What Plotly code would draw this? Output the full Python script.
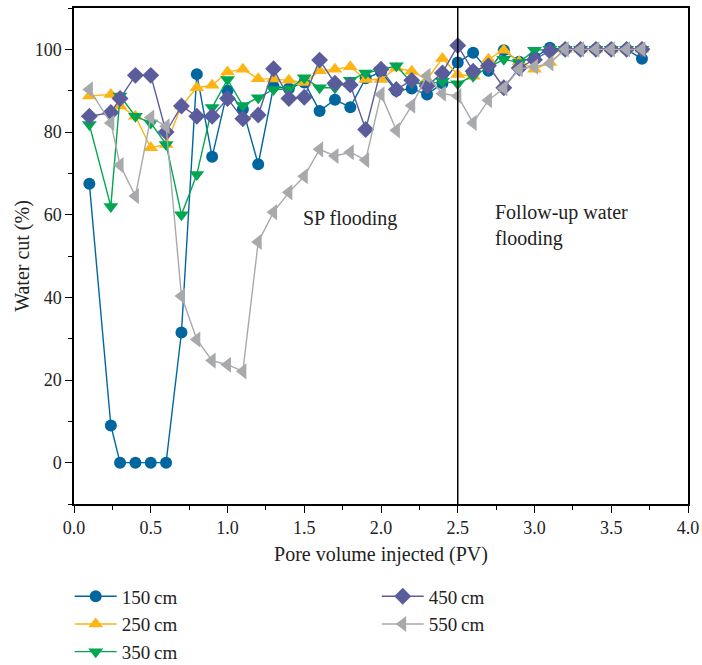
import plotly.graph_objects as go

pv = [0.1, 0.24, 0.3, 0.4, 0.5, 0.6, 0.7, 0.8, 0.9, 1.0, 1.1, 1.2, 1.3, 1.4, 1.5,
      1.6, 1.7, 1.8, 1.9, 2.0, 2.1, 2.2, 2.3, 2.4, 2.5, 2.6, 2.7, 2.8, 2.9, 3.0,
      3.1, 3.2, 3.3, 3.4, 3.5, 3.6, 3.7]

wc_150 = [67.5, 9, 0, 0, 0, 0, 31.5, 94, 74, 90, 85.5, 72.2, 91, 90.5, 92,
          85.1, 87.8, 86, 93, 94.5, 90, 90.5, 89.1, 91.8, 96.8, 99.2, 94.8, 99.8, 97, 98,
          100.4, 100, 100, 100, 100, 100, 97.7]
wc_250 = [88.7, 89.1, 86.3, 83.8, 76.2, 77, 86.3, 90.7, 91.3, 94.5, 95.2, 92.9, 92.8, 92.5, 92,
          94.8, 95.2, 95.8, 92.7, 92.7, 95.5, 94.7, 92.7, 97.8, 93.9, 93.5, 97.6, 99.8, 97, 95.2,
          96.8, 100, 100, 100, 100, 100, 100]
wc_350 = [81.8, 62, 88.7, 83.8, 82.2, 77, 60, 69.7, 85.9, 92.7, 86.4, 88.3, 90.3, 90.4, 93.1,
          90.7, 90.7, 92.5, 94.3, 95, 96, 91.9, 91.5, 92.3, 91.7, 93.5, 95.5, 97.6, 96.8, 99.8,
          100, 100, 100, 100, 100, 100, 100]
wc_450 = [83.8, 84.7, 88.1, 93.7, 93.7, 80, 86.3, 83.8, 83.8, 88.1, 83.2, 84.1, 95.3, 88.1, 88.4,
          97.4, 91.8, 91.4, 80.6, 95.2, 90.3, 92.5, 91.1, 94.3, 100.9, 94.7, 96, 90.7, 95.5, 97.5,
          99.6, 100, 100, 100, 100, 100, 100]
wc_550 = [90.3, 82.2, 72, 64.5, 83.5, 81.4, 40.3, 29.8, 24.7, 23.7, 22.1, 53.4, 60.6, 65.4, 69.3,
          75.8, 74.2, 75.1, 73.2, 89.1, 80.4, 86.4, 93.6, 89.3, 88.7, 82.2, 87.7, 90.6, 95.2, 95.8,
          96.6, 100, 100, 100, 100, 100, 100]

names = ["150\u2009cm", "250\u2009cm", "350\u2009cm", "450\u2009cm", "550\u2009cm"]
series = [wc_150, wc_250, wc_350, wc_450, wc_550]
colors = ["#00669f", "#fdb515", "#00a651", "#5b5c9c", "#a7a9ac"]
symbols = ["circle", "triangle-up", "triangle-down", "diamond", "triangle-left"]
sizes = [12, 13, 13, 13, 14]
legends = ["legend", "legend", "legend", "legend2", "legend2"]

FONT = "Liberation Serif"
TXT = "#222"

fig = go.Figure()
for nm, ys, c, s, sz, lg in zip(names, series, colors, symbols, sizes, legends):
    fig.add_trace(go.Scatter(
        x=pv, y=ys, name=nm, mode="lines+markers",
        line=dict(color=c, width=1.4),
        marker=dict(color=c, symbol=s, size=sz, line=dict(width=0)),
        legend=lg,
    ))

fig.add_shape(type="line", xref="x", yref="paper", x0=2.5, x1=2.5, y0=0, y1=1,
              line=dict(color="black", width=1.5))

fig.add_annotation(x=1.8, y=59, xref="x", yref="y", text="SP flooding",
                   showarrow=False, font=dict(family=FONT, size=20, color=TXT))
fig.add_annotation(x=2.73, y=57.5, xref="x", yref="y", text="Follow-up water<br>flooding",
                   showarrow=False, align="left", xanchor="left",
                   font=dict(family=FONT, size=20, color=TXT))

axis_common = dict(
    showline=True, linecolor="black", linewidth=1.5, mirror=True,
    ticks="outside", ticklen=7, tickwidth=1.2, tickcolor="black",
    showgrid=False, zeroline=False, automargin=False,
    tickfont=dict(family=FONT, size=18, color=TXT),
)

fig.update_xaxes(range=[0, 4], dtick=0.5, tickformat=".1f", ticklabeloverflow="allow",
                 minor=dict(ticks="outside", ticklen=4, dtick=0.25, tickcolor="black"),
                 title=dict(text="Pore volume injected (PV)", font=dict(family=FONT, size=20, color=TXT),
                            standoff=10),
                 **axis_common)
fig.update_yaxes(range=[-10, 110], tickvals=[0, 20, 40, 60, 80, 100],
                 minor=dict(ticks="outside", ticklen=4, tickvals=[-10, 10, 30, 50, 70, 90, 110],
                            tickcolor="black"),
                 title=dict(text="Water cut (%)", font=dict(family=FONT, size=20, color=TXT),
                            standoff=0),
                 **axis_common)

legend_common = dict(
    font=dict(family=FONT, size=19, color=TXT),
    bgcolor="rgba(0,0,0,0)", orientation="v",
    yanchor="top", xanchor="left", tracegroupgap=0, itemwidth=42,
)

fig.update_layout(
    width=702, height=665,
    margin=dict(l=74, r=14, t=8, b=161, autoexpand=False),
    plot_bgcolor="white", paper_bgcolor="white",
    legend=dict(x=-0.007, y=-0.148, **legend_common),
    legend2=dict(x=0.493, y=-0.148, **legend_common),
    showlegend=True,
)

fig.write_html(
    "out.html",
    config={"displayModeBar": False},
    post_script="document.body.style.margin='0';document.body.style.overflow='hidden';",
)
